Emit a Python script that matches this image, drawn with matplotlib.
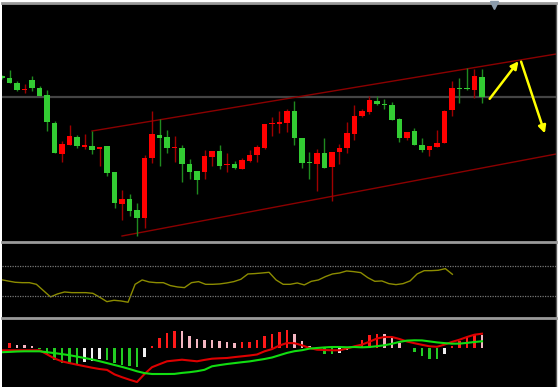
import numpy as np
import matplotlib
matplotlib.use("Agg")
import matplotlib.pyplot as plt

# price candles (red = up, green = down)
opens  = [174, 172, 167, 160, 170, 162, 155, 127, 96, 105, 113, 103, 104, 101, 104, 78,
          46, 51, 40, 32, 92, 115, 113, 102, 102, 86, 79, 78, 93, 99, 85, 86,
          81, 89, 95, 102, 126, 126, 127, 139, 112, 88, 86, 97, 83, 98, 102, 116,
          134, 138, 149, 146, 145, 131, 112, 119, 105, 100, 103, 107, 140, 162, 162, 160, 173]
closes = [172, 167, 160, 161, 162, 154, 128, 97, 106, 114, 104, 105, 100, 103, 77, 47,
          51, 39, 32, 92, 116, 112, 102, 103, 86, 78, 70, 94, 99, 84, 86, 82,
          90, 95, 103, 126, 127, 128, 139, 112, 87, 87, 97, 82, 98, 102, 117, 134,
          139, 150, 146, 145, 130, 112, 118, 105, 100, 104, 107, 139, 162, 161, 161, 174, 153]
highs  = [175, 180, 169, 166, 174, 164, 160, 129, 109, 125, 115, 116, 119, 103, 104, 78,
          60, 56, 47, 95, 139, 131, 120, 114, 105, 91, 79, 100, 99, 105, 97, 89,
          92, 100, 105, 126, 133, 139, 141, 149, 112, 98, 101, 112, 98, 106, 128, 145,
          141, 154, 154, 151, 148, 132, 118, 122, 112, 104, 120, 140, 169, 172, 182, 181, 181]
lows   = [171, 167, 159, 157, 159, 154, 119, 97, 88, 105, 102, 101, 96, 84, 74, 42,
          30, 34, 14, 22, 87, 84, 97, 88, 68, 71, 56, 71, 84, 81, 78, 81,
          81, 88, 88, 101, 114, 117, 118, 105, 82, 71, 59, 82, 49, 86, 97, 110,
          133, 136, 145, 141, 130, 108, 110, 105, 98, 94, 103, 107, 134, 147, 160, 152, 147]

level_line = 153.3
channel_upper = [(12, 119), (73.9, 196)]
channel_lower = [(16, 14), (73.9, 96)]
arrow_up = [(64.8, 149), (69.1, 191)]
arrow_down = [(69.1, 191), (72.5, 114)]

rsi = [51.4, 49.6, 47.9, 47.4, 47.4, 45.2, 36.8, 28.4, 32.4, 35.0, 34.1, 34.1, 34.1, 33.2, 27.9, 22.1,
       23.9, 23.0, 21.3, 45.2, 51.0, 48.3, 47.4, 47.4, 43.5, 41.7, 40.8, 47.4, 48.8, 45.2, 45.2, 45.7,
       47.0, 48.8, 51.9, 59.0, 59.5, 60.3, 61.2, 51.0, 45.2, 45.2, 47.0, 44.4, 49.2, 51.0, 55.5, 59.0,
       60.3, 63.0, 62.1, 60.8, 54.1, 49.2, 49.7, 46.1, 44.8, 46.1, 49.7, 59.0, 63.4, 63.4, 63.9, 66.1, 58.6]

macd_hist = [np.nan, 5, 3.3, 2.7, 2, -0.7, -7.3, -12, -15, -15.5, -16.3, -14.3, -12.7, -11, -11.7, -15.3,
             -17, -17.7, -18.7, -9.3, 1.7, 10, 15, 17.3, 16.7, 11.7, 9.3, 8.3, 8.1, 6.7, 5.7, 5,
             6, 6.2, 8.3, 11.7, 14, 16, 17.7, 14, 6.7, 1.7, -1.7, -5.7, -6, -5, -1.7, 1.7,
             8.3, 12.7, 14, 13.8, 10, 5, 0.5, -4.3, -8.3, -10.7, -11, -5.7, 2.3, 7.3, 11, 14.3, 12.7]
dif = [-2.3, -2.3, -2.3, -2.3, -2.3, -2.3, -6.3, -10.5, -13.4, -15.1, -16.7, -18.2, -19.7, -21.0, -21.9, -26.4,
       -29.2, -31.7, -34.0, -26.0, -19.2, -16.2, -13.3, -12.5, -11.7, -12.5, -13.3, -11.9, -10.7, -10.3, -10.0, -9.1,
       -8.3, -7.5, -6.5, -3.3, -1.1, 2.5, 5, 4.8, 2.7, 0, -1.7, -2, -2.3, -2.3, -0.5, 1.7,
       3.4, 6.3, 9.5, 11, 11, 9, 6.5, 4.8, 3.2, 1.7, 1.2, 3.4, 6.1, 8.3, 11, 13.3, 14.3]
dea = [-4.2, -3.9, -3.5, -3.3, -3.3, -3.3, -4.2, -5.1, -6.1, -7.2, -8.6, -10, -11.4, -13.2, -15.1, -17,
       -18.9, -21, -23.3, -25.1, -26, -26, -26, -25.9, -24.9, -24.2, -23.2, -21.8, -18.3, -17.1, -16, -15.1,
       -14.2, -13.4, -12.2, -11, -9.5, -7.2, -4.9, -3.2, -2.2, -0.6, 0, 0.6, 1, 1, 0.7, 1,
       0.7, 1, 1.8, 2.8, 4.2, 6.1, 7.4, 7.7, 7.6, 6.6, 5.6, 4.9, 4.3, 4.4, 5.1, 6, 6.7]

UP = '#ff0000'
DOWN = '#33cc33'
GRID = '#9a9a9a'

x = np.arange(len(opens))
o = np.array(opens, float)
c = np.array(closes, float)
up = c >= o

fig = plt.figure(figsize=(5.58, 3.87), dpi=100, facecolor='white')
L, R = 1.5 / 558, 556 / 558
H = 387.0
ax = fig.add_axes([L, 1 - 242 / H, R - L, 239 / H])
ax_rsi = fig.add_axes([L, 1 - 318 / H, R - L, 76 / H])
ax_macd = fig.add_axes([L, 0, R - L, 69 / H])

for a in (ax, ax_rsi, ax_macd):
    a.set_facecolor('black')
    a.set_xticks([])
    a.set_yticks([])
    for s in ('left', 'bottom'):
        a.spines[s].set_visible(False)
    a.spines['top'].set_color(GRID)
    a.spines['top'].set_linewidth(2)
    a.spines['right'].set_color('#555555')
    a.spines['right'].set_linewidth(1)

# main panel
ax.axhline(level_line, color='#444444', lw=1.6, zorder=1)
ax.vlines(x[up], np.array(lows)[up], np.array(highs)[up], color='#a00000', lw=1, zorder=2)
ax.vlines(x[~up], np.array(lows)[~up], np.array(highs)[~up], color='#1f8a1f', lw=1, zorder=2)
body_lo = np.minimum(o, c)
body_h = np.maximum(np.abs(c - o), 1.5)
ax.bar(x, body_h, bottom=body_lo, width=0.68, color=np.where(up, UP, DOWN), zorder=3)

for seg in (channel_upper, channel_lower):
    ax.plot([seg[0][0], seg[1][0]], [seg[0][1], seg[1][1]], color='#8b0000', lw=1, zorder=1)
for seg in (arrow_up, arrow_down):
    ax.annotate('', xy=seg[1], xytext=seg[0],
                arrowprops=dict(arrowstyle='-|>', color='yellow', lw=1.8, mutation_scale=11))
ax.plot([65.6], [245.5], marker='v', color='#8a9aaa', ms=6, clip_on=False, zorder=5)
ax.set_xlim(-0.07, 73.87)
ax.set_ylim(8, 247)

# RSI panel
ax_rsi.plot(np.arange(len(rsi)), rsi, color='#8c8c00', lw=1)
for lvl in (30, 70):
    ax_rsi.axhline(lvl, color='#777777', lw=0.9, ls=(0, (1, 1)))
ax_rsi.set_xlim(0.05, 78.7)
ax_rsi.set_ylim(0.3, 101.6)

# MACD panel
h = np.array(macd_hist, float)
prev = np.concatenate([[np.nan], h[:-1]])
cols = []
for cur, pv in zip(h, prev):
    if cur >= 0:
        cols.append('#ff1a1a' if not (pv > cur) else '#f4b6c2')
    else:
        cols.append('#22cc22' if not (pv < cur) else '#f0f0f0')
ax_macd.bar(x, np.nan_to_num(h), width=0.28, color=cols, zorder=2)
ax_macd.plot(x, dif, color='#dd0000', lw=1.5, zorder=3)
ax_macd.plot(x, dea, color='#11dd11', lw=1.5, zorder=3)
ax_macd.set_xlim(-0.07, 73.87)
ax_macd.set_ylim(-39, 30)

fig.savefig('out.png', dpi=100, facecolor='white')
